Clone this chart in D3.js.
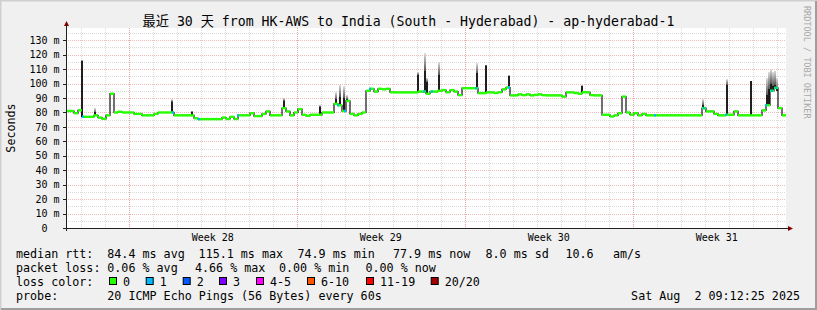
<!DOCTYPE html>
<html>
<head>
<meta charset="utf-8">
<script src="https://cdn.jsdelivr.net/npm/d3@7"></script>
<style>
  html, body { margin: 0; padding: 0; background: #f0f0f0; }
  svg { display: block; }
  text { font-family: "DejaVu Sans Mono", "Noto Sans CJK SC", monospace; white-space: pre; }
</style>
</head>
<body>
<svg id="chart" width="817" height="310"></svg>
<script>
// time window of the graph (last 30 days)
var startTime = new Date(2025, 6, 3, 9, 12, 25);
var endTime = new Date(2025, 7, 2, 9, 12, 25);
var stepHours = 4;

// median rtt in ms, one value every 4 hours
var medianRtt = [
  81, 81, 79.5, 81.5, 77, 77, 77, 78, 76.5, 75.6,
  78, 93, 80, 80.5, 80, 80, 80, 79, 79, 78,
  78, 78, 79, 80, 80, 80, 80, 78, 78, 78,
  78, 78, 76, 75.4, 75.4, 75.4, 75.4, 75.4, 75.4, 76.5,
  75.5, 77, 75.5, 78, 78, 78, 79.5, 77.5, 77.5, 79,
  80.7, 78, 78, 78, 83, 80.7, 78, 80, 82.3, 78.4,
  77.7, 78.4, 78.4, 78.4, 80, 80, 80, 86, 85, 81,
  88, 79, 78, 79, 80, 95, 96.4, 94.5, 96.4, 96,
  96.4, 94, 93.9, 93.9, 93.9, 93.9, 93.9, 93.9, 94.5, 94.5,
  93, 94.5, 94.5, 95, 95.5, 94, 95.5, 94.5, 92, 96.8,
  96.8, 96.8, 96.8, 93.4, 93.4, 93.9, 93.9, 93.5, 94, 96,
  97.3, 91.8, 91.8, 92.5, 92, 92.5, 91.8, 92.2, 92.5, 92,
  91.8, 91.8, 91.8, 91.8, 91, 93.9, 93.9, 93.5, 93, 94,
  93.9, 92, 91.8, 91.8, 78.4, 78.4, 77.2, 78, 79.5, 91,
  80, 78.5, 79.5, 78, 79, 78, 78, 78, 78, 78,
  78, 78, 78, 78, 78, 78, 78, 78, 78, 83,
  80.7, 80.7, 79, 78, 78, 78.4, 78.4, 80.7, 78, 78,
  78, 78, 78, 78, 81.4, 85, 95, 97, 83, 78
];

// short bursts of high rtt: hour since start, dark smoke top, light smoke top (ms)
var spikeHours = [16, 29, 106, 126, 218, 254, 270, 274, 278, 281, 352, 359, 361, 373,
  411, 420, 443, 516, 637, 661, 685, 701, 703, 705, 707, 709, 711];
var spikeHigh = [115.5, 80, 87.5, 80.5, 88, 84, 89, 91, 90, 89, 106, 109, 101, 106,
  107, 112.5, 105, 98, 85, 99, 101.5, 92, 96, 100, 98, 99, 95];
var spikeSmoke = [116.5, 83, 89, 81, 90, 85, 94, 99, 98, 92, 108, 121, 104, 115,
  114, 113, 106, 99, 89, 103, 102, 104, 108, 110, 108, 109, 104];

// hours where one of 20 pings was lost
var lossOneHours = [17, 107, 133, 172, 272, 279, 304, 358, 366, 410, 443, 589, 638, 660, 700, 706, 710];

var yTickValues = d3.range(0, 131, 10);
var lossLabels = ['0', '1', '2', '3', '4-5', '6-10', '11-19', '20/20'];
var lossColors = ['#26ff00', '#00b8ff', '#0059ff', '#7e00ff', '#ff00ff', '#ff5500', '#ff0000', '#a10000'];
var rttStats = ['84.4 ms avg', '115.1 ms max', '74.9 ms min', '77.9 ms now', '8.0 ms sd', '10.6', 'am/s'];
var lossStats = ['0.06 % avg', '4.66 % max', '0.00 % min', '0.00 % now'];

var svg = d3.select('#chart');
var W = 817, H = 310;
var plot = { left: 66, right: 786, top: 28, bottom: 228 };

// background and 3d border
svg.append('rect').attr('width', W).attr('height', H).attr('fill', '#f0f0f0');
svg.append('path').attr('d', 'M0.5,' + H + 'V0.5H' + W).attr('fill', 'none')
  .attr('stroke', '#cfcfcf').attr('stroke-width', 2);
svg.append('path').attr('d', 'M1,' + (H - 1) + 'H' + (W - 1) + 'V1').attr('fill', 'none')
  .attr('stroke', '#9e9e9e').attr('stroke-width', 2);

svg.append('rect')
  .attr('x', plot.left).attr('y', plot.top)
  .attr('width', plot.right - plot.left).attr('height', plot.bottom - plot.top)
  .attr('fill', '#fff');

var x = d3.scaleTime().domain([startTime, endTime]).range([plot.left, plot.right]);
var y = d3.scaleLinear().domain([0, 138.5]).range([plot.bottom, plot.top]);

function hourToDate(h) { return new Date(startTime.getTime() + h * 3600 * 1000); }

/* grid */
var minorColor = 'rgba(143,143,143,0.32)';
var majorColor = 'rgba(222,80,80,0.4)';
var grid = svg.append('g').attr('shape-rendering', 'crispEdges');
var minorY = d3.range(5, 138.5, 10);
grid.selectAll('.gy').data(minorY).enter().append('line')
  .attr('x1', plot.left).attr('x2', plot.right)
  .attr('y1', function(d) { return Math.round(y(d)) + 0.5; })
  .attr('y2', function(d) { return Math.round(y(d)) + 0.5; })
  .attr('stroke', minorColor).attr('stroke-dasharray', '1,1');
var days = d3.timeDay.range(startTime, endTime);
grid.selectAll('.gx').data(days).enter().append('line')
  .attr('x1', function(d) { return Math.round(x(d)) + 0.5; })
  .attr('x2', function(d) { return Math.round(x(d)) + 0.5; })
  .attr('y1', plot.top).attr('y2', plot.bottom)
  .attr('stroke', minorColor).attr('stroke-dasharray', '1,1');
grid.selectAll('.my').data(yTickValues.slice(1)).enter().append('line')
  .attr('x1', plot.left).attr('x2', plot.right)
  .attr('y1', function(d) { return Math.round(y(d)) + 0.5; })
  .attr('y2', function(d) { return Math.round(y(d)) + 0.5; })
  .attr('stroke', majorColor).attr('stroke-dasharray', '1,1');
var sundays = d3.timeSunday.range(startTime, endTime);
grid.selectAll('.mx').data(sundays).enter().append('line')
  .attr('x1', function(d) { return Math.round(x(d)) + 0.5; })
  .attr('x2', function(d) { return Math.round(x(d)) + 0.5; })
  .attr('y1', plot.top).attr('y2', plot.bottom)
  .attr('stroke', majorColor).attr('stroke-dasharray', '1,1');

/* smoke for the spikes */
var defs = svg.append('defs');
var grad = defs.append('linearGradient').attr('id', 'smoke')
  .attr('x1', 0).attr('x2', 0).attr('y1', 1).attr('y2', 0);
grad.append('stop').attr('offset', 0).attr('stop-color', '#555');
grad.append('stop').attr('offset', 1).attr('stop-color', '#ddd');

var data = medianRtt.map(function(v, i) {
  return { t: hourToDate(i * stepHours), t1: hourToDate((i + 1) * stepHours), v: v };
});
var spikes = spikeHours.map(function(h, i) {
  return { t: hourToDate(h), base: medianRtt[Math.floor(h / stepHours)],
    hi: spikeHigh[i], top: spikeSmoke[i] };
});

var smoke = svg.append('g').attr('shape-rendering', 'crispEdges');
smoke.selectAll('.light').data(spikes).enter().append('rect')
  .attr('x', function(d) { return Math.round(x(d.t)) - 1; })
  .attr('width', 2)
  .attr('y', function(d) { return y(d.top); })
  .attr('height', function(d) { return Math.max(0, y(d.hi) - y(d.top)); })
  .attr('fill', 'url(#smoke)');
smoke.selectAll('.dark').data(spikes).enter().append('rect')
  .attr('x', function(d) { return Math.round(x(d.t)) - 1; })
  .attr('width', 2)
  .attr('y', function(d) { return y(Math.max(d.hi, d.base)); })
  .attr('height', function(d) { return Math.abs(y(d.base) - y(d.hi)); })
  .attr('fill', '#1e1e1e');

/* median line: black steps, coloured by loss on top */
var stepLine = d3.line()
  .x(function(d) { return x(d.t); })
  .y(function(d) { return y(d.v); })
  .curve(d3.curveStepAfter);
svg.append('path')
  .datum(data.concat([{ t: endTime, v: medianRtt[medianRtt.length - 1] }]))
  .attr('d', stepLine)
  .attr('fill', 'none').attr('stroke', '#111').attr('stroke-width', 1.2);

svg.append('g').selectAll('line').data(data).enter().append('line')
  .attr('x1', function(d) { return x(d.t); })
  .attr('x2', function(d) { return x(d.t1); })
  .attr('y1', function(d) { return y(d.v); })
  .attr('y2', function(d) { return y(d.v); })
  .attr('stroke', lossColors[0]).attr('stroke-width', 2.4);

svg.append('g').selectAll('rect').data(lossOneHours).enter().append('rect')
  .attr('x', function(h) { return x(hourToDate(h)) - 1; })
  .attr('width', 2)
  .attr('y', function(h) { return y(medianRtt[Math.floor(h / stepHours)]) - 1.2; })
  .attr('height', 2.4)
  .attr('fill', lossColors[1]);

/* axes */
var axisColor = '#202020';
var yTicks = svg.append('g').attr('shape-rendering', 'crispEdges');
yTicks.selectAll('line').data(yTickValues).enter().append('line')
  .attr('x1', plot.left - 3).attr('x2', plot.left)
  .attr('y1', function(d) { return Math.round(y(d)) + 0.5; })
  .attr('y2', function(d) { return Math.round(y(d)) + 0.5; })
  .attr('stroke', axisColor);
svg.append('g').selectAll('text').data(yTickValues).enter().append('text')
  .attr('x', function(d) { return d === 0 ? 47.5 : 59.5; })
  .attr('y', function(d) { return y(d) + 3.6; })
  .attr('text-anchor', 'end')
  .attr('font-size', '10px')
  .attr('fill', '#000')
  .text(function(d) { return d === 0 ? '0' : d + ' m'; });

svg.append('line')
  .attr('x1', plot.left + 0.5).attr('x2', plot.left + 0.5)
  .attr('y1', plot.bottom + 3).attr('y2', plot.top - 3)
  .attr('stroke', axisColor);
svg.append('line')
  .attr('x1', plot.left - 3).attr('x2', plot.right + 3)
  .attr('y1', plot.bottom + 0.5).attr('y2', plot.bottom + 0.5)
  .attr('stroke', axisColor);
svg.append('path')
  .attr('d', 'M' + (plot.left - 2) + ',' + (plot.top - 2) + 'L' + (plot.left + 3) + ',' + (plot.top - 2) +
    'L' + (plot.left + 0.5) + ',' + (plot.top - 7) + 'Z')
  .attr('fill', '#7f0000');
svg.append('path')
  .attr('d', 'M' + (plot.right + 2) + ',' + (plot.bottom - 2) + 'L' + (plot.right + 2) + ',' + (plot.bottom + 3) +
    'L' + (plot.right + 7) + ',' + (plot.bottom + 0.5) + 'Z')
  .attr('fill', '#7f0000');

var weekFormat = d3.timeFormat('%V');
var weekMids = sundays.map(function(d) { return d3.timeHour.offset(d, 84); });
svg.append('g').selectAll('text').data(weekMids).enter().append('text')
  .attr('x', function(d) { return x(d); })
  .attr('y', plot.bottom + 12.5)
  .attr('text-anchor', 'middle')
  .attr('font-size', '10px')
  .text(function(d) { return 'Week ' + weekFormat(d); });

/* titles */
svg.append('text')
  .attr('x', W / 2).attr('y', 26)
  .attr('text-anchor', 'middle')
  .attr('font-size', '13.2px')
  .text('最近 30 天 from HK-AWS to India (South - Hyderabad) - ap-hyderabad-1');

svg.append('text')
  .attr('transform', 'translate(15,' + ((plot.top + plot.bottom) / 2) + ') rotate(-90)')
  .attr('text-anchor', 'middle')
  .attr('font-size', '11.7px')
  .text('Seconds');

svg.append('text')
  .attr('transform', 'translate(803.5,6) rotate(90)')
  .attr('font-size', '8.5px')
  .attr('fill', '#a8a8a8')
  .text('RRDTOOL / TOBI OETIKER');

/* legend */
var legend = svg.append('g').attr('font-size', '11.7px');
var rowY = [258, 272, 286, 300];
legend.append('text').attr('x', 16).attr('y', rowY[0]).text('median rtt:');
var rttX = [107.3, 198.6, 297.5, 393, 485.5, 565.5, 613];
legend.selectAll('.rtt').data(rttStats).enter().append('text')
  .attr('x', function(d, i) { return rttX[i]; }).attr('y', rowY[0]).text(function(d) { return d; });

legend.append('text').attr('x', 16).attr('y', rowY[1]).text('packet loss:');
var lossX = [107.3, 195, 279, 365.5];
legend.selectAll('.loss').data(lossStats).enter().append('text')
  .attr('x', function(d, i) { return lossX[i]; }).attr('y', rowY[1]).text(function(d) { return d; });

legend.append('text').attr('x', 16).attr('y', rowY[2]).text('loss color:');
var boxX = [109, 145.7, 182.7, 219, 256, 307, 366, 430.7];
var items = legend.selectAll('.lc').data(lossLabels).enter().append('g');
items.append('rect')
  .attr('x', function(d, i) { return boxX[i] + 0.5; })
  .attr('y', rowY[2] - 8.5)
  .attr('width', 7).attr('height', 7)
  .attr('fill', function(d, i) { return lossColors[i]; })
  .attr('stroke', '#000');
items.append('text')
  .attr('x', function(d, i) { return boxX[i] + 14; })
  .attr('y', rowY[2])
  .text(function(d) { return d; });

legend.append('text').attr('x', 16).attr('y', rowY[3]).text('probe:');
legend.append('text').attr('x', 107.3).attr('y', rowY[3]).text('20 ICMP Echo Pings (56 Bytes) every 60s');
legend.append('text').attr('x', 800).attr('y', rowY[3]).attr('text-anchor', 'end')
  .text('Sat Aug  2 09:12:25 2025');
</script>
</body>
</html>
